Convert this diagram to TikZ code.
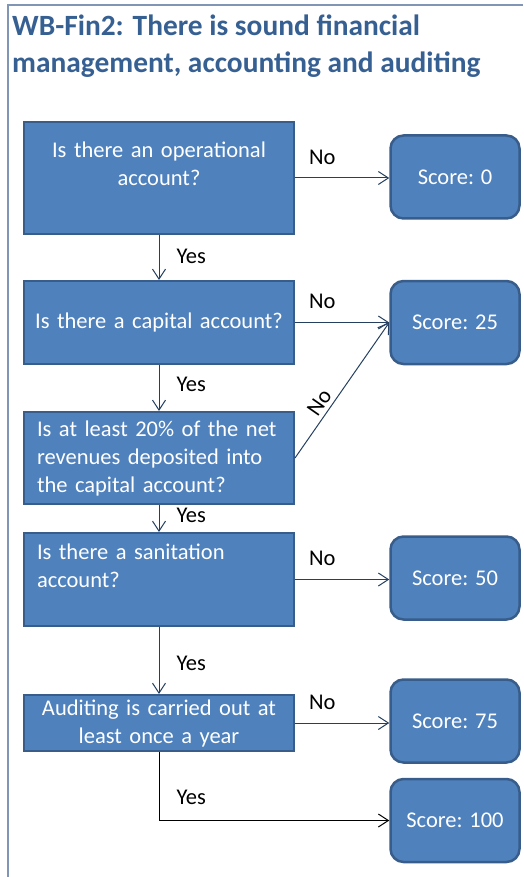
\documentclass[tikz,border=0pt]{standalone}
\usepackage{fontspec}
\setmainfont{Carlito}
\usetikzlibrary{arrows.meta}
\definecolor{wbBlue}{RGB}{79,129,189}
\definecolor{wbEdge}{RGB}{56,93,138}
\definecolor{wbTitle}{RGB}{55,96,146}
\definecolor{wbLine}{RGB}{36,63,96}
\definecolor{wbFrame}{RGB}{128,150,180}
\newcommand{\wbfont}{\fontsize{22.5}{28}\selectfont\hyphenpenalty=10000\relax}
\begin{document}
\begin{tikzpicture}[x=1pt,y=-1pt,
    wbQ/.style={draw=wbEdge,line width=2pt,fill=wbBlue,text=white,font=\wbfont,
        inner xsep=13pt,inner ysep=0pt,text width=244pt,minimum width=270pt},
    wbScore/.style={draw=wbEdge,line width=2.5pt,fill=wbBlue,text=white,
        rounded corners=13pt,font=\wbfont,minimum width=129pt,minimum height=83pt},
    wbArr/.style={-{Straight Barb[length=10pt,width=13pt]},draw=wbLine,line width=1pt},
    wbLbl/.style={font=\wbfont,text=black,inner sep=2pt},
]
\useasboundingbox (0,0) rectangle (523,877);
\draw[wbFrame,line width=1.5pt] (8,877) -- (8,5) -- (523,5);
% Title
\node[anchor=north west,text=wbTitle,font=\bfseries\fontsize{29.4}{37}\selectfont,
    align=left,inner sep=0pt] (title) at (12,15)
    {WB-Fin2: There is sound financial\\management, accounting and auditing};
% Questions
\node[wbQ,align=center,minimum height=112pt] (q1) at (159,178)
    {Is there an operational\\account?\\\mbox{}};
\node[wbQ,align=center,minimum height=83pt,inner xsep=5pt,text width=260pt] (q2) at (159,322.5)
    {Is there a capital account?};
\node[wbQ,align=left,minimum height=92pt] (q3) at (159,458)
    {Is at least 20\% of the net\\revenues deposited into\\the capital account?};
\node[wbQ,align=left,minimum height=93pt] (q4) at (159,579.5)
    {Is there a sanitation\\account?\\\mbox{}};
\node[wbQ,align=center,minimum height=56pt] (q5) at (159,723)
    {Auditing is carried out at\\least once a year};
% Scores
\node[wbScore] (s0) at (455,177) {Score: 0};
\node[wbScore] (s25) at (455,322.5) {Score: 25};
\node[wbScore] (s50) at (455,578) {Score: 50};
\node[wbScore] (s75) at (455,721) {Score: 75};
\node[wbScore] (s100) at (455,820.5) {Score: 100};
% No branches
\draw[wbArr] (q1.east) -- (q1.east -| s0.west) node[wbLbl,pos=.29,above=11pt] {No};
\draw[wbArr] (q2.east) -- (s25.west) node[wbLbl,pos=.29,above=11pt] {No};
\draw[wbArr] (q3.east) -- (s25.west) node[wbLbl,pos=.36,sloped,above=2pt] {No};
\draw[wbArr] (q4.east) -- (q4.east -| s50.west) node[wbLbl,pos=.29,above=11pt] {No};
\draw[wbArr] (q5.east) -- (q5.east -| s75.west) node[wbLbl,pos=.29,above=11pt] {No};
% Yes branches
\draw[wbArr] (q1) -- (q2) node[wbLbl,pos=.47,right=15pt] {Yes};
\draw[wbArr] (q2) -- (q3) node[wbLbl,pos=.43,right=15pt] {Yes};
\draw[wbArr] (q3) -- (q4) node[wbLbl,pos=.38,right=15pt] {Yes};
\draw[wbArr] (q4) -- (q5) node[wbLbl,pos=.54,right=15pt] {Yes};
\draw[wbArr,draw=black] (q5.south) |- (s100.west) node[wbLbl,pos=.33,right=15pt] {Yes};
\end{tikzpicture}
\end{document}
